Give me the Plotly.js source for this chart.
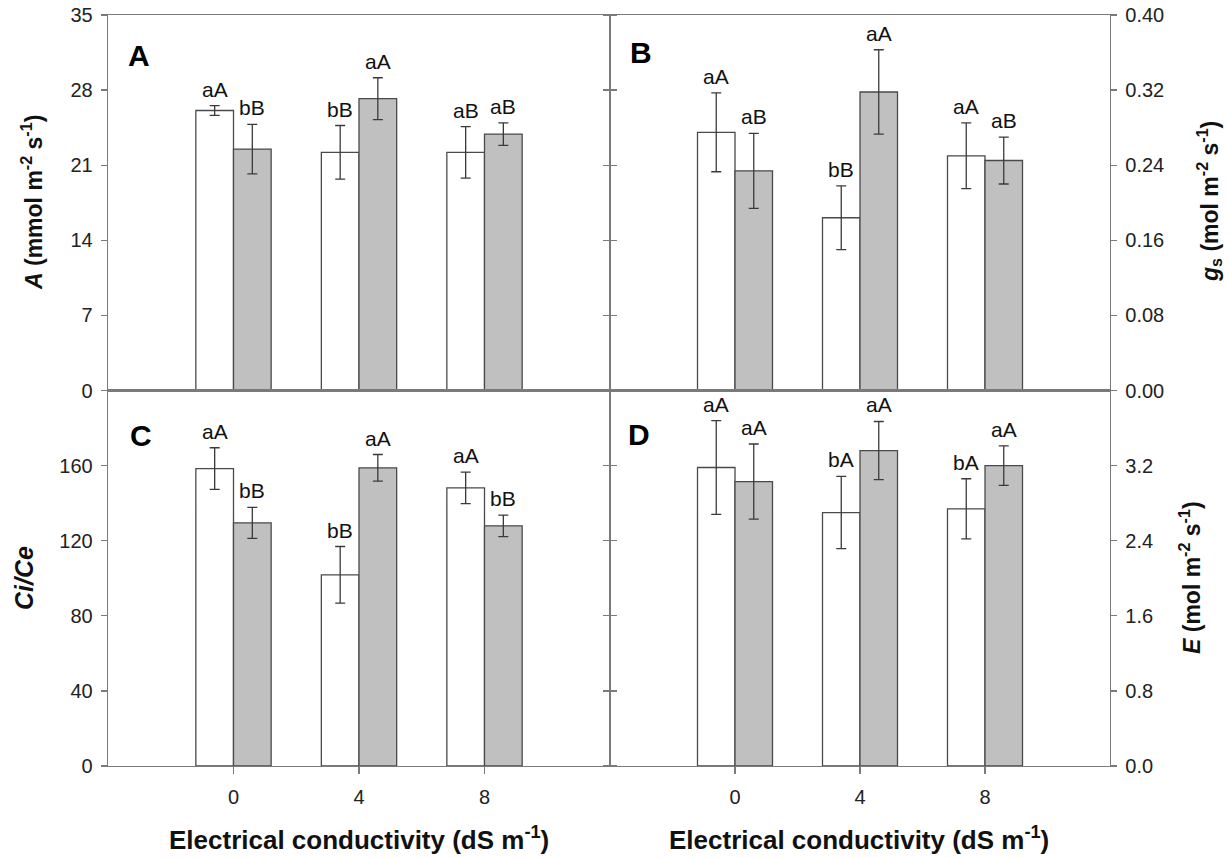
<!DOCTYPE html>
<html>
<head>
<meta charset="utf-8">
<script src="https://cdn.plot.ly/plotly-3.0.1.min.js"></script>
<style>html,body{margin:0;padding:0;background:#fff;}#chart{width:1229px;height:858px;}</style>
</head>
<body>
<div id="chart"></div>
<script>
// ---- Data ----
const ec = ['0', '4', '8'];

const A_white = [26.1, 22.2, 22.2];
const A_white_err = [0.45, 2.5, 2.4];
const A_gray = [22.5, 27.2, 23.9];
const A_gray_err = [2.3, 1.95, 1.05];
const A_white_lbl = ['aA', 'bB', 'aB'];
const A_gray_lbl = ['bB', 'aA', 'aB'];

const gs_white = [0.275, 0.184, 0.250];
const gs_white_err = [0.042, 0.034, 0.035];
const gs_gray = [0.234, 0.318, 0.245];
const gs_gray_err = [0.040, 0.045, 0.025];
const gs_white_lbl = ['aA', 'bB', 'aA'];
const gs_gray_lbl = ['aB', 'aA', 'aB'];

const Ci_white = [158.4, 101.8, 148.1];
const Ci_white_err = [11.1, 15.1, 8.4];
const Ci_gray = [129.5, 158.8, 127.9];
const Ci_gray_err = [8.3, 7.1, 5.7];
const Ci_white_lbl = ['aA', 'bB', 'aA'];
const Ci_gray_lbl = ['bB', 'aA', 'bB'];

const E_white = [3.18, 2.70, 2.74];
const E_white_err = [0.50, 0.385, 0.32];
const E_gray = [3.03, 3.36, 3.20];
const E_gray_err = [0.40, 0.31, 0.21];
const E_white_lbl = ['aA', 'bA', 'bA'];
const E_gray_lbl = ['aA', 'aA', 'aA'];

const A_ticks = [0, 7, 14, 21, 28, 35];
const gs_ticks = [0, 0.08, 0.16, 0.24, 0.32, 0.40];
const Ci_ticks = [0, 40, 80, 120, 160];
const E_ticks = [0, 0.8, 1.6, 2.4, 3.2];

// ---- Styles ----
const FONT = 'Liberation Sans, Arial, sans-serif';
const axisCol = '#7a7a7a';
const barLine = '#4a4a4a';
const errCol = '#3a3a3a';
const grayFill = '#c0c0c0';

// geometry (pixels) of plotting area
const L = 108, T = 15, W = 1002, H = 751;
const px2x = p => (p - L) / W;
const py2y = p => 1 - (p - T) / H;
const halfBar = 18.8;

function barTrace(vals, errs, fill, xa, ya) {
  return {
    type: 'bar', x: ec, y: vals, xaxis: xa, yaxis: ya,
    marker: {color: fill, line: {color: barLine, width: 1.3}},
    error_y: {type: 'data', array: errs, visible: true, color: errCol, thickness: 1.3, width: 5},
    showlegend: false, hoverinfo: 'skip'
  };
}

const traces = [
  barTrace(A_white, A_white_err, '#ffffff', 'x', 'y'),
  barTrace(A_gray, A_gray_err, grayFill, 'x', 'y'),
  barTrace(gs_white, gs_white_err, '#ffffff', 'x2', 'y2'),
  barTrace(gs_gray, gs_gray_err, grayFill, 'x2', 'y2'),
  barTrace(Ci_white, Ci_white_err, '#ffffff', 'x3', 'y3'),
  barTrace(Ci_gray, Ci_gray_err, grayFill, 'x3', 'y3'),
  barTrace(E_white, E_white_err, '#ffffff', 'x4', 'y4'),
  barTrace(E_gray, E_gray_err, grayFill, 'x4', 'y4')
];

const annotations = [];
function letters(vals, errs, lbls, xa, ya, shift) {
  vals.forEach((v, i) => {
    annotations.push({
      xref: xa, yref: ya, x: i, y: v + errs[i], xshift: shift, yshift: 3,
      xanchor: 'center', yanchor: 'bottom', showarrow: false, text: lbls[i],
      font: {family: FONT, size: 21, color: '#111'}
    });
  });
}
letters(A_white, A_white_err, A_white_lbl, 'x', 'y', -halfBar);
letters(A_gray, A_gray_err, A_gray_lbl, 'x', 'y', halfBar);
letters(gs_white, gs_white_err, gs_white_lbl, 'x2', 'y2', -halfBar);
letters(gs_gray, gs_gray_err, gs_gray_lbl, 'x2', 'y2', halfBar);
letters(Ci_white, Ci_white_err, Ci_white_lbl, 'x3', 'y3', -halfBar);
letters(Ci_gray, Ci_gray_err, Ci_gray_lbl, 'x3', 'y3', halfBar);
letters(E_white, E_white_err, E_white_lbl, 'x4', 'y4', -halfBar);
letters(E_gray, E_gray_err, E_gray_lbl, 'x4', 'y4', halfBar);

// panel letters
[['A', 126, 43], ['B', 628, 40], ['C', 128, 423], ['D', 626, 422]].forEach(([t, px, py]) => {
  annotations.push({xref: 'paper', yref: 'paper', x: px2x(px), y: py2y(py - 6), xanchor: 'left', yanchor: 'top',
    showarrow: false, text: '<b>' + t + '</b>', font: {family: FONT, size: 30, color: '#000'}});
});

// axis titles
function ytitle(text, cx, cy, size) {
  annotations.push({xref: 'paper', yref: 'paper', x: px2x(cx), y: py2y(cy), xanchor: 'center', yanchor: 'middle',
    textangle: -90, showarrow: false, text: text, font: {family: FONT, size: size, color: '#111'}});
}
ytitle('<b><i>A</i> (mmol m<sup>-2</sup> s<sup>-1</sup>)</b>', 32, 203, 23);
ytitle('<b><i>g</i><sub>s</sub> (mol m<sup>-2</sup> s<sup>-1</sup>)</b>', 1209, 202, 23);
ytitle('<b><i>Ci/Ce</i></b>', 24, 578, 25);
ytitle('<b><i>E</i> (mol m<sup>-2</sup> s<sup>-1</sup>)</b>', 1190, 578, 23);

[359, 859].forEach(cx => {
  annotations.push({xref: 'paper', yref: 'paper', x: px2x(cx), y: py2y(838), xanchor: 'center', yanchor: 'middle',
    showarrow: false, text: '<b>Electrical conductivity (dS m<sup>-1</sup>)</b>', font: {family: FONT, size: 26, color: '#111'}});
});

const xBase = {
  type: 'category', range: [-1, 3], showline: true, linecolor: axisCol, linewidth: 1.3, mirror: true,
  showgrid: false, zeroline: false, fixedrange: true
};
const xTop = Object.assign({}, xBase, {ticks: '', showticklabels: false});
const xBot = Object.assign({}, xBase, {ticks: 'outside', ticklen: 7, tickwidth: 1.3, tickcolor: axisCol,
  tickfont: {family: FONT, size: 20, color: '#222'}, ticklabelstandoff: 6});

const yBase = {
  showline: true, linecolor: axisCol, linewidth: 1.3, mirror: 'ticks', ticks: 'outside', ticklen: 6,
  tickwidth: 1.3, tickcolor: axisCol, showgrid: false, zeroline: false, fixedrange: true,
  tickfont: {family: FONT, size: 20, color: '#222'}, ticklabelstandoff: 4
};

const d1 = px2x(610);
const layout = {
  width: 1229, height: 858,
  margin: {l: L, r: 1229 - L - W, t: T, b: 858 - T - H, pad: 0},
  paper_bgcolor: '#fff', plot_bgcolor: '#fff',
  barmode: 'group', bargap: 0.4, bargroupgap: 0,
  showlegend: false,
  xaxis: Object.assign({}, xTop, {domain: [0, d1], anchor: 'y'}),
  xaxis2: Object.assign({}, xTop, {domain: [d1, 1], anchor: 'y2'}),
  xaxis3: Object.assign({}, xBot, {domain: [0, d1], anchor: 'y3'}),
  xaxis4: Object.assign({}, xBot, {domain: [d1, 1], anchor: 'y4'}),
  yaxis: Object.assign({}, yBase, {domain: [0.5, 1], anchor: 'x', range: [0, 35], tickvals: A_ticks}),
  yaxis2: Object.assign({}, yBase, {domain: [0.5, 1], anchor: 'x2', side: 'right', range: [0, 0.4], tickvals: gs_ticks, tickformat: '.2f'}),
  yaxis3: Object.assign({}, yBase, {domain: [0, 0.5], anchor: 'x3', range: [0, 200], tickvals: Ci_ticks}),
  yaxis4: Object.assign({}, yBase, {domain: [0, 0.5], anchor: 'x4', side: 'right', range: [0, 4], tickvals: E_ticks, tickformat: '.1f'}),
  annotations: annotations
};

Plotly.newPlot('chart', traces, layout, {displayModeBar: false, staticPlot: true});
</script>
</body>
</html>
